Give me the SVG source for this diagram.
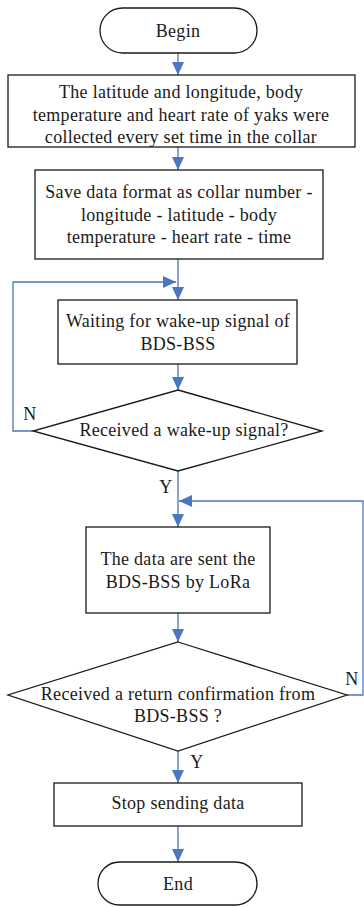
<svg xmlns="http://www.w3.org/2000/svg" width="364" height="907" viewBox="0 0 364 907">
<style>
.n{fill:#fff;stroke:#1a1a1a;stroke-width:1.3}
.t{font-family:"Liberation Serif",serif;font-size:18px;letter-spacing:0.3px;fill:#1a1a1a;text-anchor:middle}
.c{fill:none;stroke:#4a76c2;stroke-width:1.3}
</style>
<defs>
<marker id="a" markerUnits="userSpaceOnUse" markerWidth="14" markerHeight="12" refX="13" refY="6" orient="auto">
<path d="M0,0 L13,6 L0,12 Z" fill="#4a76c2"/>
</marker>
</defs>
<rect width="364" height="907" fill="#fff"/>
<g id="connectors">
<line class="c" x1="178" y1="53" x2="178" y2="75" marker-end="url(#a)"/>
<line class="c" x1="178" y1="147" x2="178" y2="170" marker-end="url(#a)"/>
<line class="c" x1="178" y1="259" x2="178" y2="300" marker-end="url(#a)"/>
<polyline class="c" points="33,431 13,431 13,282 176,282" marker-end="url(#a)"/>
<line class="c" x1="178" y1="364" x2="178" y2="390" marker-end="url(#a)"/>
<line class="c" x1="178" y1="471" x2="178" y2="527" marker-end="url(#a)"/>
<polyline class="c" points="347,695 363,695 363,501 179,501" marker-end="url(#a)"/>
<line class="c" x1="178" y1="613" x2="178" y2="642" marker-end="url(#a)"/>
<line class="c" x1="178" y1="751" x2="178" y2="783" marker-end="url(#a)"/>
<line class="c" x1="178" y1="826" x2="178" y2="862" marker-end="url(#a)"/>
<text class="t" x="30" y="420">N</text>
<text class="t" x="166" y="493">Y</text>
<text class="t" x="352" y="685">N</text>
<text class="t" x="197" y="768">Y</text>
</g>
<g id="begin">
<rect class="n" x="100" y="8" width="157" height="45" rx="22.5"/>
<text class="t" x="178" y="37">Begin</text>
</g>
<g id="collect">
<rect class="n" x="8" y="75" width="347" height="72"/>
<text class="t" x="181" y="98">The latitude and longitude, body</text>
<text class="t" x="181" y="121">temperature and heart rate of yaks were</text>
<text class="t" x="181" y="143">collected every set time in the collar</text>
</g>
<g id="save">
<rect class="n" x="35" y="170" width="288" height="89"/>
<text class="t" x="179" y="198">Save data format as collar number -</text>
<text class="t" x="179" y="221">longitude - latitude - body</text>
<text class="t" x="179" y="243">temperature - heart rate - time</text>
</g>
<g id="wait">
<rect class="n" x="58" y="300" width="239" height="64"/>
<text class="t" x="178" y="327">Waiting for wake-up signal of</text>
<text class="t" x="178" y="350">BDS-BSS</text>
</g>
<g id="received1">
<polygon class="n" points="178,390 322,431 178,471 33,431"/>
<text class="t" x="184" y="436">Received a wake-up signal?</text>
</g>
<g id="send">
<rect class="n" x="86" y="527" width="184" height="86"/>
<text class="t" x="178" y="565">The data are sent the</text>
<text class="t" x="178" y="588">BDS-BSS by LoRa</text>
</g>
<g id="received2">
<polygon class="n" points="178,642 347,695 178,751 8,695"/>
<text class="t" x="178" y="700">Received a return confirmation from</text>
<text class="t" x="178" y="722">BDS-BSS ?</text>
</g>
<g id="stop">
<rect class="n" x="54" y="783" width="248" height="43"/>
<text class="t" x="178" y="809">Stop sending data</text>
</g>
<g id="end">
<rect class="n" x="98" y="862" width="159" height="43" rx="21.5"/>
<text class="t" x="178" y="890">End</text>
</g>
</svg>
